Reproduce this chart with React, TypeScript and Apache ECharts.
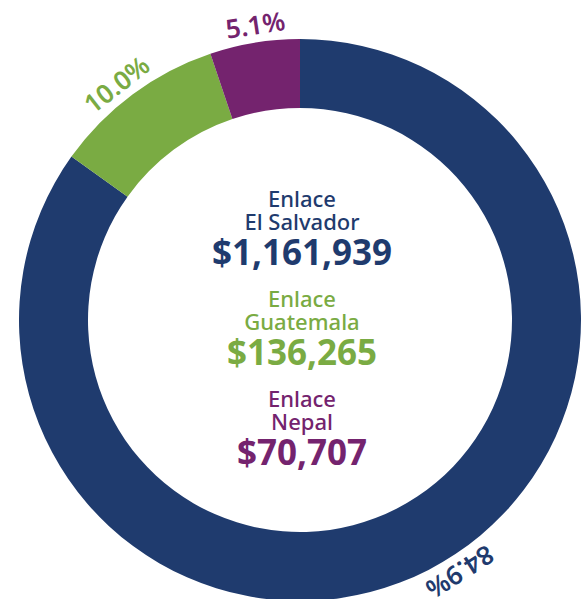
import React, { useEffect, useRef } from "react";
import * as echarts from "echarts";

// ---- data ----
const categories = ["Enlace El Salvador", "Enlace Guatemala", "Enlace Nepal"];
const nameLine1 = ["Enlace", "Enlace", "Enlace"];
const nameLine2 = ["El Salvador", "Guatemala", "Nepal"];
const amounts = [1161939, 136265, 70707];
const amountLabels = ["$1,161,939", "$136,265", "$70,707"];
const pctLabels = ["84.9%", "10.0%", "5.1%"];

// ---- style / layout ----
const colors = ["#1f3b6e", "#7aab43", "#74236e"];
const FONT = "'Noto Sans', 'Open Sans', sans-serif";
const CX = 300;
const CY = 320;
const R_IN = 212;
const R_OUT = 281;
const R_LABEL = 299;
const LABEL_NUDGE_DEG = [-5.2, -1.4, 0.7];
const BLOCK_Y = [198, 298, 398];
const LINE_OFFSETS = [0, 22.5, 53];

export default function App() {
  const ref = useRef<HTMLDivElement>(null);

  useEffect(() => {
    if (!ref.current) return;
    const chart = echarts.init(ref.current, undefined, { renderer: "svg" });

    const total = amounts.reduce((a, b) => a + b, 0);
    let cum = 0;
    const pctGraphics: any[] = [];
    amounts.forEach((v, i) => {
      const mid = ((cum + v / 2) / total) * 360 + LABEL_NUDGE_DEG[i];
      cum += v;
      const a = (mid * Math.PI) / 180;
      pctGraphics.push({
        type: "text",
        x: CX + R_LABEL * Math.sin(a),
        y: CY - R_LABEL * Math.cos(a),
        rotation: -a,
        silent: true,
        style: {
          text: pctLabels[i],
          fill: colors[i],
          fontFamily: FONT,
          fontSize: 26,
          fontWeight: 600,
          lineHeight: 26,
          align: "center",
          verticalAlign: "middle",
        },
      });
    });

    const centerGraphics: any[] = [];
    categories.forEach((_, i) => {
      const texts = [nameLine1[i], nameLine2[i], amountLabels[i]];
      texts.forEach((t, j) => {
        const isAmount = j === 2;
        centerGraphics.push({
          type: "text",
          x: 302,
          y: BLOCK_Y[i] + LINE_OFFSETS[j],
          silent: true,
          style: {
            text: t,
            fill: colors[i],
            fontFamily: FONT,
            fontSize: isAmount ? 35 : 22,
            fontWeight: isAmount ? "bold" : 500,
            lineHeight: isAmount ? 34 : 22,
            align: "center",
            verticalAlign: "middle",
          },
        });
      });
    });

    chart.setOption({
      animation: false,
      backgroundColor: "#ffffff",
      series: [
        {
          type: "pie",
          center: [CX, CY],
          radius: [R_IN, R_OUT],
          startAngle: 90,
          clockwise: true,
          avoidLabelOverlap: false,
          label: { show: false },
          labelLine: { show: false },
          emphasis: { disabled: true },
          itemStyle: { borderWidth: 0 },
          data: categories.map((c, i) => ({
            name: c,
            value: amounts[i],
            itemStyle: { color: colors[i] },
          })),
        },
      ],
      graphic: [...pctGraphics, ...centerGraphics],
    });

    return () => chart.dispose();
  }, []);

  return (
    <div
      ref={ref}
      style={{ position: "fixed", left: 0, top: 0, width: 586, height: 599 }}
    />
  );
}
